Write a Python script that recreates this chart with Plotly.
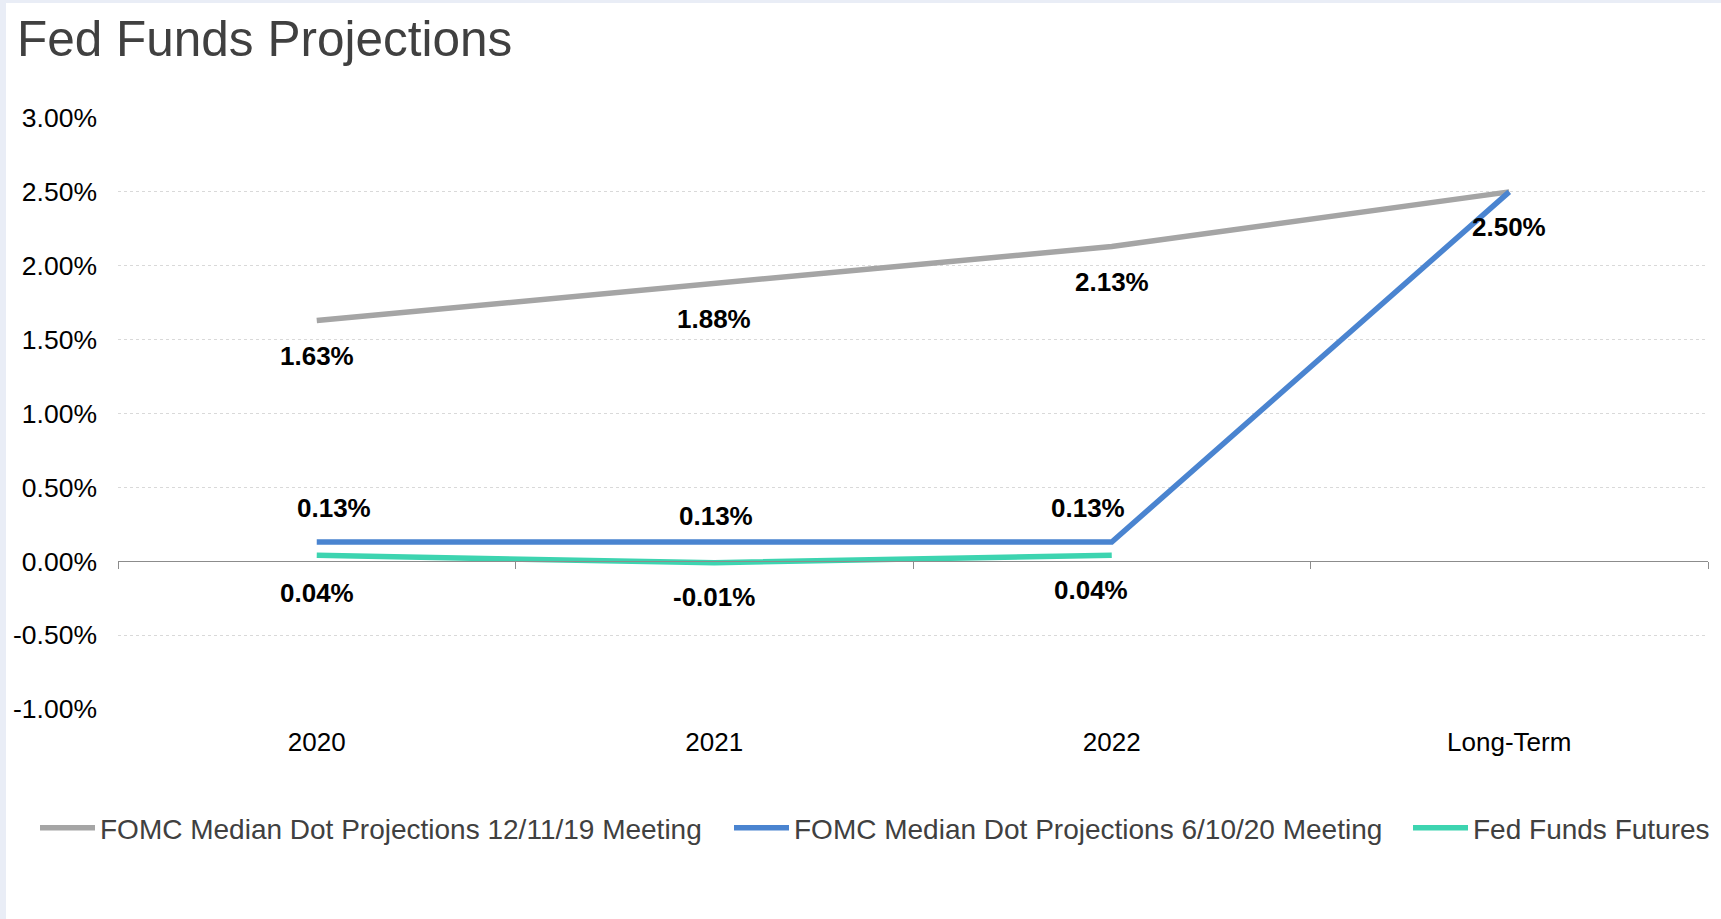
import plotly.graph_objects as go

# Fed funds projections by horizon (percent)
categories = ["2020", "2021", "2022", "Long-Term"]
dots_dec_2019 = [1.63, 1.88, 2.13, 2.50]
dots_jun_2020 = [0.13, 0.13, 0.13, 2.50]
fed_funds_futures = [0.04, -0.01, 0.04]
y_ticks = [-1.0, -0.5, 0.0, 0.5, 1.0, 1.5, 2.0, 2.5, 3.0]

names = [
    "FOMC Median Dot Projections 12/11/19 Meeting",
    "FOMC Median Dot Projections 6/10/20 Meeting",
    "Fed Funds Futures",
]
colors = ["#A5A5A5", "#4A84D0", "#3DD4B0"]

# label offsets in pixels (dx, dy) for each series' data labels
gray_label_offsets = [(0, -36), (0, -36), (0, -35), (0, -35)]
blue_label_offsets = [(17, 34), (2, 26), (-24, 34)]
teal_label_offsets = [(0, -38), (0, -34), (-21, -35)]

# left edge (px) of each legend entry
legend_left_px = [35, 729, 1408]

W, H = 1721, 919
ML, MR, MT, MB = 118, 13, 118, 210
PW, PH = W - ML - MR, H - MT - MB

FONT = "Liberation Sans, Arial, sans-serif"


def px_x(p):
    return (p - ML) / PW


def px_y(p):
    return (H - MB - p) / PH


fig = go.Figure()
fig.add_trace(go.Scatter(x=categories, y=dots_dec_2019, name=names[0], mode="lines",
                         line=dict(color=colors[0], width=5.5), legend="legend"))
fig.add_trace(go.Scatter(x=categories, y=dots_jun_2020, name=names[1], mode="lines",
                         line=dict(color=colors[1], width=5.5), legend="legend2"))
fig.add_trace(go.Scatter(x=categories[:len(fed_funds_futures)], y=fed_funds_futures,
                         name=names[2], mode="lines", xaxis="x2",
                         line=dict(color=colors[2], width=5.5), legend="legend3"))

annotations = []


def add_labels(values, offsets):
    # category index positions keep numeric-looking labels ("2020") on the category scale
    for i, (v, (dx, dy)) in enumerate(zip(values, offsets)):
        annotations.append(dict(
            x=i, y=v, xref="x", yref="y", text=f"{v:.2f}%", showarrow=False,
            xshift=dx, yshift=dy, xanchor="center", yanchor="middle",
            font=dict(family=FONT, size=26, color="#000000", weight="bold"),
        ))


add_labels(dots_dec_2019, gray_label_offsets)
add_labels(dots_jun_2020, blue_label_offsets)
add_labels(fed_funds_futures, teal_label_offsets)

# light frame strips on the left and top edges
frame = "#E9EDF6"
shapes = [
    dict(type="rect", xref="paper", yref="paper", x0=px_x(0), x1=px_x(6),
         y0=px_y(H), y1=px_y(0), fillcolor=frame, line=dict(width=0), layer="below"),
    dict(type="rect", xref="paper", yref="paper", x0=px_x(0), x1=px_x(W),
         y0=px_y(3), y1=px_y(0), fillcolor=frame, line=dict(width=0), layer="below"),
]


def legend_box(left):
    return dict(orientation="h", x=px_x(left), xanchor="left", y=px_y(828),
                yanchor="middle", font=dict(family=FONT, size=28, color="#404040"),
                bgcolor="rgba(0,0,0,0)", itemwidth=55)


fig.update_layout(
    width=W, height=H,
    margin=dict(l=ML, r=MR, t=MT, b=MB, autoexpand=False),
    paper_bgcolor="white", plot_bgcolor="white",
    title=dict(text="Fed Funds Projections", x=17 / W, xanchor="left",
               y=1 - 39 / H, yanchor="middle", yref="container",
               font=dict(family=FONT, size=49.5, color="#404040")),
    xaxis=dict(type="category", categoryorder="array", categoryarray=categories,
               range=[-0.5, 3.5], showgrid=False, showline=False, ticks="",
               zeroline=False, tickfont=dict(family=FONT, size=26, color="#000000"),
               ticklabelstandoff=15),
    xaxis2=dict(type="category", categoryorder="array", categoryarray=categories,
                range=[-0.5, 3.5], overlaying="x", anchor="free", position=0.25,
                showgrid=False, showline=True, linecolor="#8C8C8C", linewidth=1,
                ticks="outside", tickson="boundaries", ticklen=7, tickcolor="#8C8C8C",
                showticklabels=False, zeroline=False),
    yaxis=dict(range=[-1, 3], tickmode="array", tickvals=y_ticks,
               ticktext=[f"{v:.2f}%" for v in y_ticks], showgrid=True,
               gridcolor="#D9D9D9", griddash="dot", gridwidth=1, zeroline=False,
               showline=False, ticks="", ticklabelstandoff=20,
               tickfont=dict(family=FONT, size=26.5, color="#000000")),
    legend=legend_box(legend_left_px[0]),
    legend2=legend_box(legend_left_px[1]),
    legend3=legend_box(legend_left_px[2]),
    annotations=annotations,
    shapes=shapes,
    showlegend=True,
    hovermode=False,
)

fig.write_html("out.html")
